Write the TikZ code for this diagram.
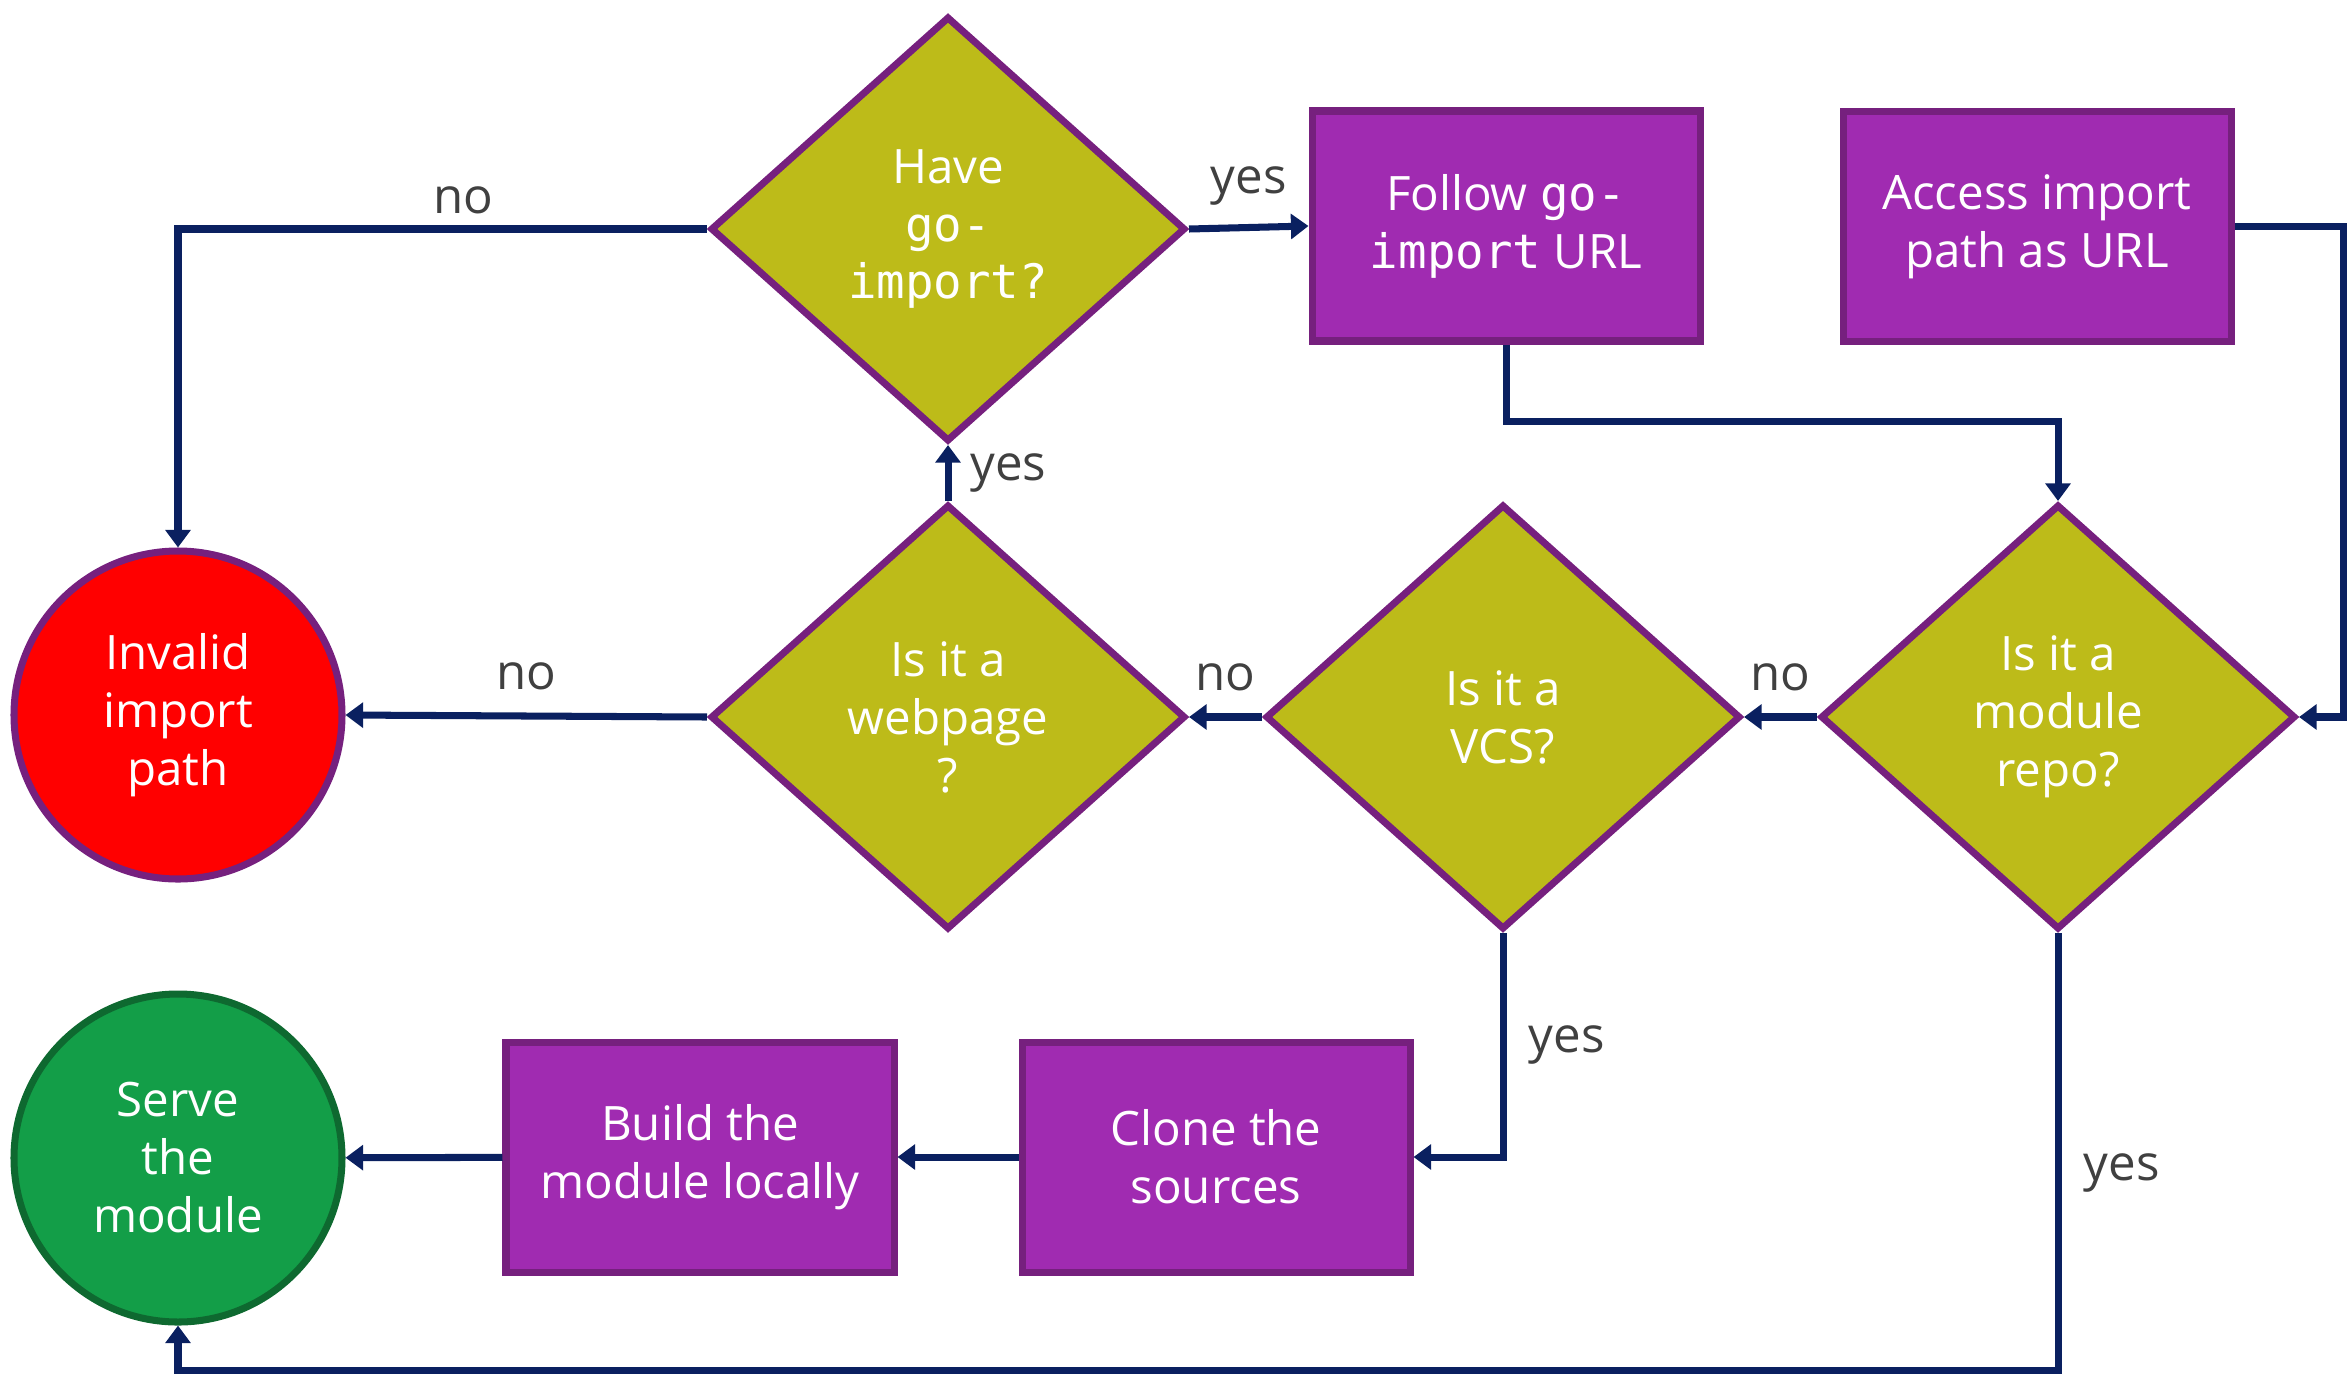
\documentclass[tikz,border=0pt]{standalone}
\usepackage{fontspec}
\setmainfont{Open Sans}
\setmonofont{DejaVu Sans Mono}
\usetikzlibrary{shapes.geometric,arrows.meta,positioning}

\definecolor{diacol}{RGB}{189,187,25}
\definecolor{edgecol}{RGB}{118,32,126}
\definecolor{boxcol}{RGB}{160,43,177}
\definecolor{linecol}{RGB}{10,32,96}
\definecolor{okcol}{RGB}{19,158,72}
\definecolor{okedge}{RGB}{14,105,48}
\definecolor{lblcol}{RGB}{64,64,64}

\begin{document}
\begin{tikzpicture}[
    txt/.style={text=white, align=center, font=\fontsize{13.5}{16.5}\selectfont},
    decision/.style={diamond, draw=edgecol, fill=diacol, line width=2pt, inner sep=0pt, minimum width=4.75cm, minimum height=4.25cm, txt},
    block/.style={rectangle, draw=edgecol, fill=boxcol, line width=2pt, minimum width=3.88cm, minimum height=2.3cm, txt},
    term/.style={circle, draw=edgecol, line width=2pt, minimum size=3.28cm, inner sep=0pt, txt},
    lbl/.style={text=lblcol, font=\fontsize{14}{16}\selectfont},
    arrow/.style={-{Triangle[length=5pt,width=7pt]}, line width=2pt, draw=linecol}
]
\useasboundingbox (0,0) rectangle (23.51,-13.74);

% Top row
\node[decision] (goimp) at (9.48,-2.29) {Have\\\texttt{go-}\\\texttt{import?}};
\node[block] (follow) at (15.06,-2.26) {Follow \texttt{go-}\\\texttt{import} URL};
\node[block] (access) at (20.37,-2.265) {Access import\\path as URL};

% Middle row
\node[decision] (webpg) at (9.48,-7.17) {Is it a\\webpage\\?};
\node[decision] (vcs) at (15.03,-7.17) {Is it a\\VCS?};
\node[decision] (modrepo) at (20.58,-7.17) {Is it a\\module\\repo?};
\node[term, fill=red] (invalid) at (1.78,-7.15) {Invalid\\import\\path};

% Bottom row
\node[term, fill=okcol, draw=okedge] (serve) at (1.78,-11.58) {Serve\\the\\module};
\node[block] (build) at (7.0,-11.57) {Build the\\module locally};
\node[block] (clone) at (12.16,-11.57) {Clone the\\sources};

\draw[arrow] (goimp.east) -- (follow.west) node[lbl, midway, above=2pt]{yes};
\draw[arrow] (goimp.west) -| (invalid.north) node[lbl, pos=0.23, above=0pt]{no};
\draw[arrow] (follow.south) -- ++(0,-0.77) -| (modrepo.north);
\draw[arrow] (access.east) -- ++(1.09,0) |- (modrepo.east);
\draw[arrow] (webpg.north) -- (goimp.south) node[lbl, midway, right=2pt]{yes};
\draw[arrow] (webpg.west) -- (invalid.east) node[lbl, midway, above=3pt]{no};
\draw[arrow] (vcs.west) -- (webpg.east) node[lbl, midway, above=3pt]{no};
\draw[arrow] (modrepo.west) -- (vcs.east) node[lbl, midway, above=3pt]{no};
\draw[arrow] (vcs.south) |- (clone.east) node[lbl, pos=0.25, right=3pt]{yes};
\draw[arrow] (clone) -- (build);
\draw[arrow] (build) -- (serve);
\draw[arrow] (modrepo.south) -- ++(0,-4.37) node[lbl, pos=0.55, right=3pt]{yes} -| (serve.south);

\end{tikzpicture}
\end{document}
